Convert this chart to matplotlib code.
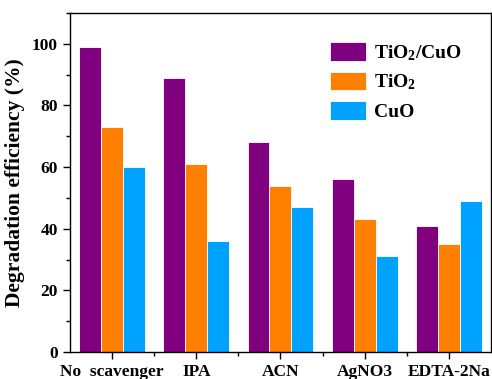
import numpy as np
import matplotlib
matplotlib.use("Agg")
import matplotlib.pyplot as plt
from matplotlib.ticker import MultipleLocator, FixedLocator

categories = ["No  scavenger", "IPA", "ACN", "AgNO3", "EDTA-2Na"]
series_names = [r"TiO$_2$/CuO", r"TiO$_2$", "CuO"]
tio2_cuo = [99, 89, 68, 56, 41]
tio2 = [73, 61, 54, 43, 35]
cuo = [60, 36, 47, 31, 49]
colors = ["#800080", "#FF8000", "#00A2FF"]

plt.rcParams["font.family"] = "Liberation Serif"
plt.rcParams["font.weight"] = "bold"
plt.rcParams["mathtext.fontset"] = "custom"
plt.rcParams["mathtext.rm"] = "Liberation Serif:bold"
plt.rcParams["mathtext.it"] = "Liberation Serif:bold"
plt.rcParams["mathtext.bf"] = "Liberation Serif:bold"

fig = plt.figure(figsize=(4.92, 3.79), dpi=100)
ax = fig.add_axes([0.142, 0.071, 0.856, 0.895])

x = np.arange(len(categories))
width = 0.26
for i, (vals, name, c) in enumerate(zip([tio2_cuo, tio2, cuo], series_names, colors)):
    ax.bar(x + (i - 1) * width, vals, width, color=c, edgecolor="white",
           linewidth=0.6, label=name)

ax.set_xlim(-0.5, 4.5)
ax.set_ylim(0, 110)
ax.set_xticks(x)
ax.set_xticklabels(categories, fontsize=12.5, fontweight="bold")
ax.xaxis.set_minor_locator(FixedLocator(x[:-1] + 0.5))
ax.yaxis.set_major_locator(MultipleLocator(20))
ax.yaxis.set_minor_locator(MultipleLocator(10))
ax.tick_params(axis="y", labelsize=12.5)
ax.tick_params(which="major", direction="out", length=5, width=1)
ax.tick_params(which="minor", direction="out", length=3, width=1)
for lab in ax.get_yticklabels():
    lab.set_fontweight("bold")
for s in ax.spines.values():
    s.set_linewidth(1)

ax.set_ylabel("Degradation efficiency (%)", fontsize=15.5, fontweight="bold",
              labelpad=5)

ax.legend(loc="upper left", bbox_to_anchor=(0.575, 0.965), frameon=False,
          fontsize=14, handlelength=1.9, handleheight=1.1,
          labelspacing=0.45, handletextpad=0.4)

fig.savefig("out.png", dpi=100)
